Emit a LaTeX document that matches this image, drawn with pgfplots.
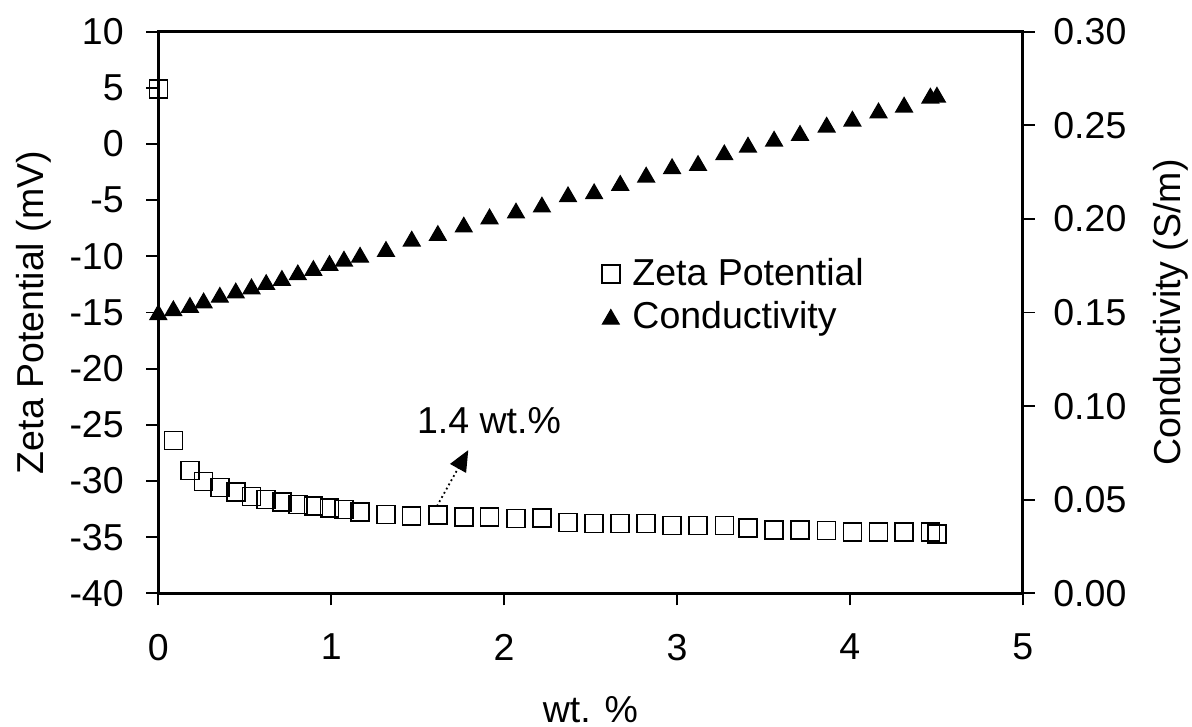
\documentclass[border=0pt]{standalone}
\usepackage{pgfplots}
\pgfplotsset{compat=1.18}
\usepackage{fontspec}
\setmainfont{Liberation Sans}
\usetikzlibrary{arrows.meta}

\pgfplotstableread{
x zeta cond
0.000 4.90 0.1501
0.087 -26.40 0.1522
0.183 -29.05 0.1540
0.262 -30.03 0.1564
0.356 -30.60 0.1594
0.448 -30.98 0.1617
0.539 -31.36 0.1639
0.624 -31.66 0.1662
0.715 -31.86 0.1684
0.807 -32.10 0.1714
0.897 -32.25 0.1737
0.990 -32.40 0.1764
1.074 -32.55 0.1787
1.167 -32.78 0.1808
1.317 -32.99 0.1839
1.466 -33.14 0.1894
1.617 -33.05 0.1924
1.767 -33.20 0.1969
1.916 -33.20 0.2013
2.069 -33.35 0.2044
2.219 -33.30 0.2076
2.370 -33.70 0.2131
2.521 -33.80 0.2147
2.672 -33.80 0.2192
2.822 -33.80 0.2236
2.972 -33.97 0.2281
3.122 -33.97 0.2298
3.274 -33.97 0.2355
3.411 -34.17 0.2396
3.562 -34.35 0.2428
3.712 -34.35 0.2459
3.866 -34.40 0.2503
4.015 -34.56 0.2535
4.166 -34.56 0.2579
4.314 -34.56 0.2610
4.466 -34.56 0.2658
4.504 -34.70 0.2663
}\datatable

\begin{document}
\begin{tikzpicture}[font=\fontsize{12.5}{15}\selectfont]
\useasboundingbox (-52.77pt,-44.56pt) rectangle (344.56pt,197.77pt);
\pgfplotsset{
  every axis/.append style={
    scale only axis, width=288.13pt, height=187.2pt,
    xmin=0, xmax=5,
    /pgf/number format/assume math mode=true,
    tick align=outside,
    axis line style={line width=0.9pt},
    tick style={black, line width=0.6pt},
    major tick length=4pt,
    clip=false,
    font=\fontsize{12.5}{15}\selectfont,
  },
}
\begin{axis}[
  ymin=-40, ymax=10,
  ytick={-40,-35,-30,-25,-20,-15,-10,-5,0,5,10},
  xtick={0,1,2,3,4,5},
  xtick pos=lower, ytick pos=left,
  xticklabel style={yshift=-6pt},
  yticklabel style={xshift=-4pt},
  xlabel={wt. \%},
  ylabel={Zeta Potential (mV)},
  xlabel style={at={(axis description cs:0.5,-0.208)}, anchor=center},
  ylabel style={at={(axis description cs:-0.1438,0.5)}, anchor=center},
]
\addplot[only marks, mark=square, mark size=3pt, mark options={line width=0.5pt, black}] table[x=x, y=zeta] {\datatable};
\draw[densely dotted, line width=0.6pt, -{Triangle[length=7pt,width=6pt]}] (axis cs:1.612,-32.24) -- (axis cs:1.793,-27.25);
\node at (axis cs:1.913,-24.67) {1.4 wt.\%};
\end{axis}
\begin{axis}[
  ymin=0, ymax=0.30,
  ytick={0,0.05,0.1,0.15,0.2,0.25,0.3},
  axis y line*=right, axis x line=none,
  yticklabel style={xshift=2.7pt, /pgf/number format/.cd, fixed, fixed zerofill, precision=2},
  ylabel={Conductivity (S/m)},
  ylabel style={at={(axis description cs:1.1716,0.5)}, anchor=center},
  legend style={draw=none, fill=none, at={(rel axis cs:0.502,0.619)}, anchor=north west, row sep=-0.3pt, font=\fontsize{12.5}{15}\selectfont},
  legend cell align=left,
  legend image code/.code={\draw[#1] plot coordinates {(0.1cm,0cm)}; \path (0.1cm+5pt,0pt);},
]
\addlegendimage{only marks, mark=square, mark size=3pt, mark options={line width=0.5pt, black}}
\addlegendentry{Zeta Potential}
\addplot[only marks, mark=triangle*, mark size=3.2pt, mark options={black, yshift=-0.8pt}] table[x=x, y=cond] {\datatable};
\addlegendentry{Conductivity}
\end{axis}
\end{tikzpicture}
\end{document}
